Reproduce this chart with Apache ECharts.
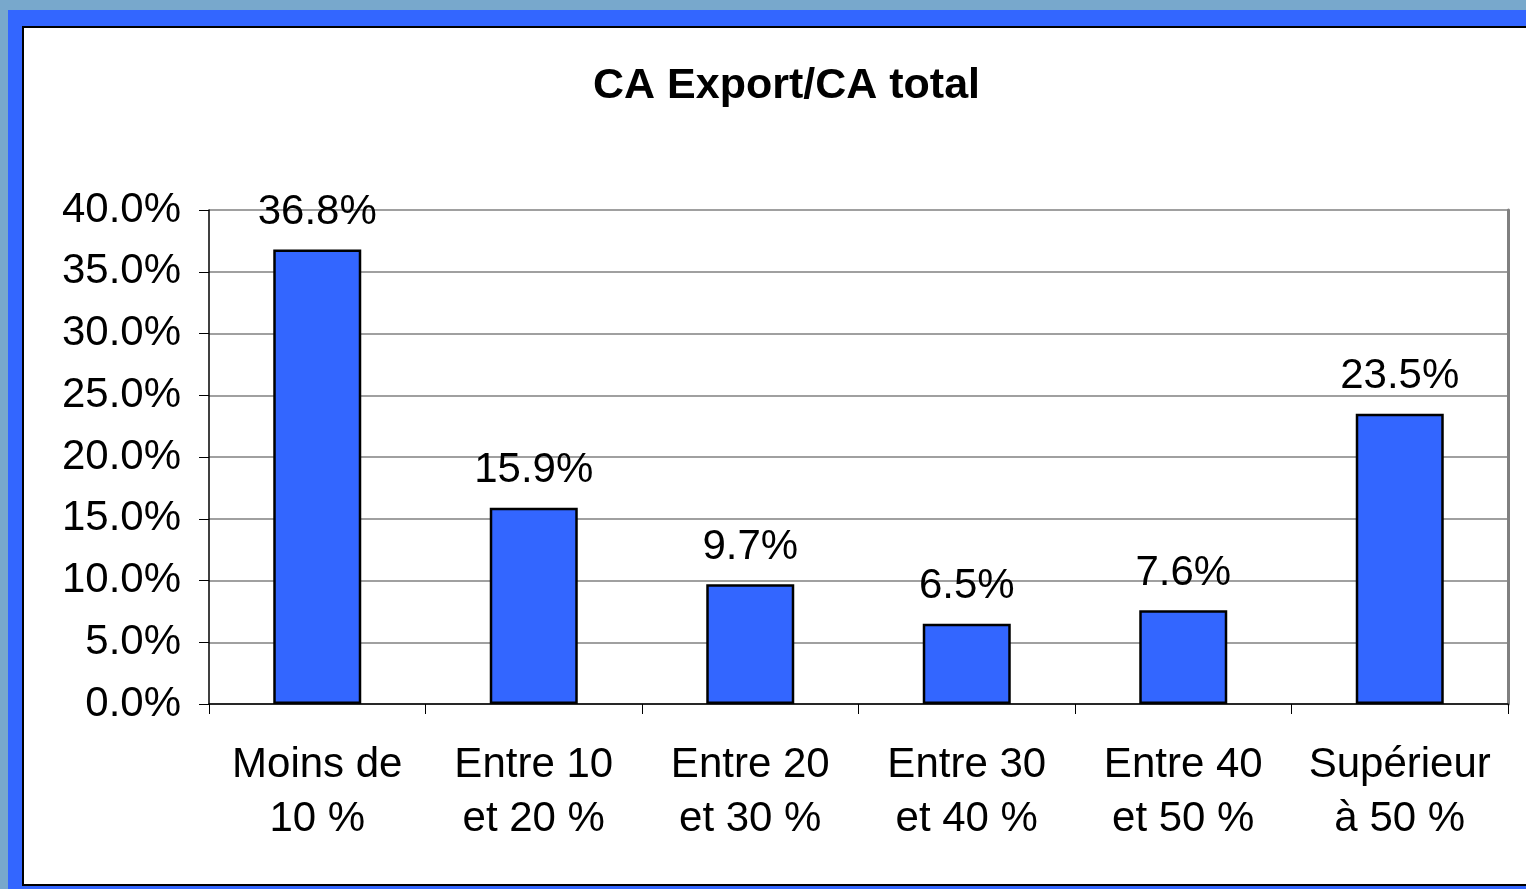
<!DOCTYPE html>
<html>
<head>
<meta charset="utf-8">
<script src="https://cdn.jsdelivr.net/npm/echarts@6/dist/echarts.min.js"></script>
<style>
  html, body { margin: 0; padding: 0; width: 1526px; height: 889px; overflow: hidden; background: #78a8cc; }
  #frame { position: absolute; left: 8px; top: 10px; width: 1518px; height: 879px; background: #3366ff; }
  #panel { position: absolute; left: 22px; top: 26px; width: 1530px; height: 856px; background: #fff; border: 2px solid #000; }
  #main { position: absolute; left: 0; top: 0; width: 1526px; height: 889px; }
</style>
</head>
<body>
<div id="frame"></div>
<div id="panel"></div>
<div id="main"></div>
<script>
// categories and values
const categories = ['Moins de\n10 %', 'Entre 10\net 20 %', 'Entre 20\net 30 %', 'Entre 30\net 40 %', 'Entre 40\net 50 %', 'Supérieur\nà 50 %'];
const shares = [0.368, 0.159, 0.097, 0.065, 0.076, 0.235];

const font = "'Liberation Sans', Arial, sans-serif";
const pct = v => (v * 100).toFixed(1) + '%';

const chart = echarts.init(document.getElementById('main'));
chart.setOption({
  backgroundColor: 'transparent',
  animation: false,
  title: {
    text: 'CA Export/CA total',
    left: 588,
    top: 60,
    textStyle: { fontFamily: font, fontSize: 43, fontWeight: 'bold', color: '#000' }
  },
  grid: { left: 209, top: 210, right: 18, bottom: 185 },
  xAxis: {
    type: 'category',
    data: categories,
    axisLine: { lineStyle: { color: '#000', width: 1.5 } },
    axisTick: { show: true, length: 10, lineStyle: { color: '#000' } },
    axisLabel: { fontFamily: font, fontSize: 42, color: '#000', lineHeight: 54, margin: 34, interval: 0 }
  },
  yAxis: [{
    type: 'value',
    min: 0,
    max: 0.4,
    interval: 0.05,
    axisLine: { show: true, lineStyle: { color: '#000', width: 1.5 } },
    axisTick: { show: true, length: 10, lineStyle: { color: '#000' } },
    axisLabel: { fontFamily: font, fontSize: 42, color: '#000', margin: 28, formatter: pct },
    splitLine: { lineStyle: { color: '#808080', width: 1.5 } }
  }, {
    // right border of the plot area
    type: 'value',
    position: 'right',
    min: 0,
    max: 0.4,
    interval: 0.05,
    axisLine: { show: true, lineStyle: { color: '#808080', width: 3 } },
    axisTick: { show: false },
    axisLabel: { show: false },
    splitLine: { show: false }
  }],
  series: [{
    type: 'bar',
    data: shares,
    barWidth: 88,
    itemStyle: { color: '#3366ff', borderColor: '#000', borderWidth: 2.5 },
    label: {
      show: true,
      position: 'top',
      distance: 16,
      fontFamily: font,
      fontSize: 42,
      color: '#000',
      formatter: p => pct(p.value)
    }
  }]
});
</script>
</body>
</html>
